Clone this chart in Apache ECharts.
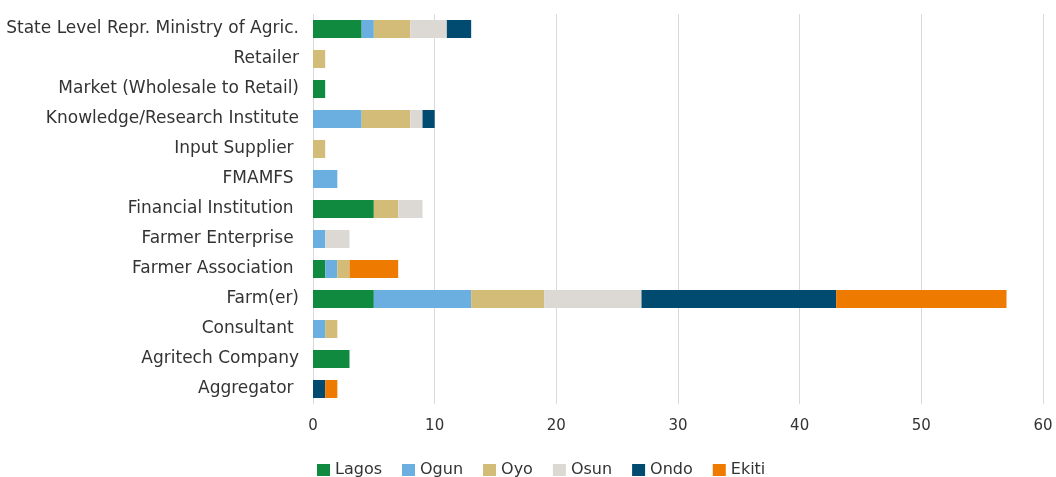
<!DOCTYPE html>
<html><head><meta charset="utf-8">
<script src="https://cdn.jsdelivr.net/npm/echarts@6/dist/echarts.min.js"></script>
<style>html,body{margin:0;padding:0;background:#fff}#c{width:1056px;height:477px}</style>
</head><body><div id="c"></div>
<script>
const categories = ["State Level Repr. Ministry of Agric.", "Retailer", "Market (Wholesale to Retail)", "Knowledge/Research Institute", "Input Supplier ", "FMAMFS ", "Financial Institution ", "Farmer Enterprise ", "Farmer Association ", "Farm(er)", "Consultant ", "Agritech Company", "Aggregator "];
const seriesNames = ["Lagos", "Ogun", "Oyo", "Osun", "Ondo", "Ekiti"];
const lagos = [4, 0, 1, 0, 0, 0, 5, 0, 1, 5, 0, 3, 0];
const ogun  = [1, 0, 0, 4, 0, 2, 0, 1, 1, 8, 1, 0, 0];
const oyo   = [3, 1, 0, 4, 1, 0, 2, 0, 1, 6, 1, 0, 0];
const osun  = [3, 0, 0, 1, 0, 0, 2, 2, 0, 8, 0, 0, 0];
const ondo  = [2, 0, 0, 1, 0, 0, 0, 0, 0, 16, 0, 0, 1];
const ekiti = [0, 0, 0, 0, 0, 0, 0, 0, 4, 14, 0, 0, 1];
const xTicks = [0, 10, 20, 30, 40, 50, 60];
const colors = ["#0f8a3f", "#6aafe0", "#d3bc78", "#dcd9d5", "#004b6f", "#ef7a00"];
const values = [lagos, ogun, oyo, osun, ondo, ekiti];
const font = "DejaVu Sans";
const chart = echarts.init(document.getElementById('c'));
chart.setOption({
  animation: false,
  textStyle: {fontFamily: font},
  grid: {left: 313, right: 13, top: 14, bottom: 73, containLabel: false},
  legend: {
    left: 312, top: 457, itemWidth: 13, itemHeight: 12, itemGap: 20, icon: 'rect',
    textStyle: {fontFamily: font, fontSize: 16, color: '#333'},
    data: seriesNames
  },
  xAxis: {
    type: 'value', min: xTicks[0], max: xTicks[xTicks.length - 1], interval: 10,
    axisLine: {show: false}, axisTick: {show: false},
    axisLabel: {fontFamily: font, fontSize: 15, color: '#333', margin: 15},
    splitLine: {show: true, lineStyle: {color: '#d9d9d9', width: 1}}
  },
  yAxis: {
    type: 'category', data: categories, inverse: true,
    axisLine: {show: false}, axisTick: {show: false},
    axisLabel: {fontFamily: font, fontSize: 17, color: '#333', margin: 14}
  },
  series: seriesNames.map((n, i) => ({
    name: n, type: 'bar', stack: 'total', data: values[i], barWidth: 18,
    itemStyle: {color: colors[i]}
  }))
});
</script></body></html>
